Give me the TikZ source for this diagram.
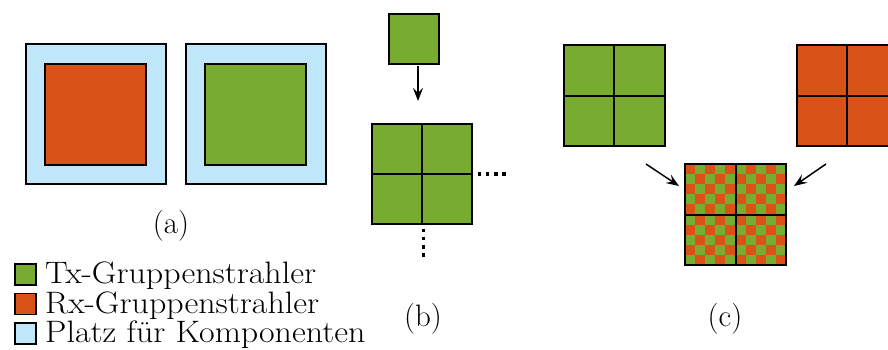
\documentclass[tikz,border=0pt]{standalone}
\usetikzlibrary{arrows.meta}
\usepackage{graphicx}
\definecolor{txg}{RGB}{119,172,48}
\definecolor{rxo}{RGB}{217,83,25}
\definecolor{plb}{RGB}{192,230,250}
\tikzset{
  sq/.style={draw=black, line width=2pt, minimum size=#1, inner sep=0pt, outer sep=0pt},
  gridln/.style={line width=2pt},
  arr/.style={line width=1.5pt, -{Stealth[length=13pt,width=10pt,inset=5pt]}},
  lbl/.style={font=\fontsize{31}{36}\selectfont, inner sep=0pt},
  dots/.style={line width=3.3pt, dash pattern=on 3.3pt off 4.8pt}
}
\newcommand{\legtext}[1]{\scalebox{1.095}[1]{#1}}
\begin{document}
\begin{tikzpicture}[x=1pt,y=-1pt]
\useasboundingbox (0,0) rectangle (888,349);
% (a)
\node[sq=140pt, fill=plb, line width=2pt] (oa1) at (95.5,114) {};
\node[sq=101pt, fill=rxo] (ia1) at (95.5,114.5) {};
\node[sq=140pt, fill=plb, line width=2pt] (oa2) at (255.5,114) {};
\node[sq=101pt, fill=txg] (ia2) at (255.5,114.5) {};
\node[lbl] (la) at (171,226) {(a)};
% (b)
\node[sq=50pt, fill=txg] (bs) at (413.5,38.5) {};
\node[sq=100pt, fill=txg] (bb) at (422,174) {};
\draw[gridln] (bb.north) -- (bb.south);
\draw[gridln] (bb.west) -- (bb.east);
\draw[arr] ([xshift=4.5pt,yshift=-2pt]bs.south) -- ([xshift=-4pt,yshift=23pt]bb.north);
\draw[dots] ([xshift=6pt]bb.east) -- ([xshift=35pt]bb.east);
\draw[dots] ([xshift=1.5pt,yshift=-5pt]bb.south) -- ([xshift=1.5pt,yshift=-34pt]bb.south);
\node[lbl] (lb) at (423,319) {(b)};
% (c)
\node[sq=101pt, fill=txg] (cg) at (614,95.5) {};
\draw[gridln] (cg.north) -- (cg.south);
\draw[gridln] (cg.west) -- (cg.east);
\node[sq=101pt, fill=rxo] (co) at (847,95.5) {};
\draw[gridln] (co.north) -- (co.south);
\draw[gridln] (co.west) -- (co.east);
\node[sq=101pt, fill=txg] (ck) at (735.5,214.5) {};
\foreach \i in {0,...,9}{
  \foreach \j in {0,...,9}{
    \pgfmathtruncatemacro{\pty}{mod(\i+\j,2)}
    \ifnum\pty=0
      \fill[rxo] (685+\i*10.1,164+\j*10.1) rectangle ++(10.1,10.1);
    \fi
  }
}
\draw[line width=2pt] (ck.north west) rectangle (ck.south east);
\draw[gridln] (ck.north) -- (ck.south);
\draw[gridln] (ck.west) -- (ck.east);
\draw[arr] ([xshift=-39pt]ck.north west) -- ([xshift=-6pt,yshift=-22pt]ck.north west);
\draw[arr] ([xshift=40pt]ck.north east) -- ([xshift=8pt,yshift=-22pt]ck.north east);
\node[lbl] (lc) at (725,319) {(c)};
% legend
\node[sq=21pt, fill=txg, line width=1.8pt] (k1) at (25.5,274.5) {};
\node[sq=21pt, fill=rxo, line width=1.8pt] (k2) at (25.5,304) {};
\node[sq=21pt, fill=plb, line width=1.8pt] (k3) at (25.5,333.5) {};
\node[lbl, anchor=base west] (t1) at (45,283) {\legtext{Tx-Gruppenstrahler}};
\node[lbl, anchor=base west] (t2) at (45,313) {\legtext{Rx-Gruppenstrahler}};
\node[lbl, anchor=base west] (t3) at (45,342) {\legtext{Platz für Komponenten}};
\end{tikzpicture}
\end{document}
